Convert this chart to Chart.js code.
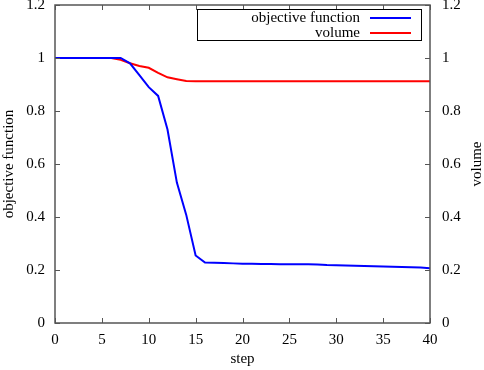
<!DOCTYPE html>
<html>
<head>
<meta charset="utf-8">
<script src="https://cdn.jsdelivr.net/npm/chart.js@4/dist/chart.umd.min.js"></script>
<style>
  html, body { margin: 0; padding: 0; background: #fff; }
  #wrap { width: 484px; height: 370px; position: relative; }
</style>
</head>
<body>
<div id="wrap"><canvas id="opt-chart"></canvas></div>
<script>
// values
var steps = [];
for (var s = 0; s <= 40; s++) steps.push(s);

var objective = [
  1.0, 1.0, 1.0, 1.0, 1.0, 1.0, 1.0, 1.0, 0.98, 0.935,
  0.89, 0.857, 0.73, 0.53, 0.408, 0.255, 0.228, 0.227, 0.226, 0.225,
  0.224, 0.224, 0.223, 0.223, 0.222, 0.222, 0.222, 0.222, 0.221, 0.219,
  0.218, 0.217, 0.216, 0.215, 0.214, 0.213, 0.212, 0.211, 0.21, 0.209,
  0.207
];

var volume = [
  1.0, 1.0, 1.0, 1.0, 1.0, 1.0, 1.0, 0.993, 0.98, 0.97,
  0.963, 0.944, 0.927, 0.92, 0.913, 0.912, 0.912, 0.912, 0.912, 0.912,
  0.912, 0.912, 0.912, 0.912, 0.912, 0.912, 0.912, 0.912, 0.912, 0.912,
  0.912, 0.912, 0.912, 0.912, 0.912, 0.912, 0.912, 0.912, 0.912, 0.912,
  0.912
];

var x_ticks = [0, 5, 10, 15, 20, 25, 30, 35, 40];
var y_ticks = [0, 0.2, 0.4, 0.6, 0.8, 1, 1.2];

var font_family = "'Liberation Serif', 'DejaVu Serif', serif";
var axis_grey = "#555555";

function points(ys) {
  return steps.map(function(x, i) { return { x: x, y: ys[i] }; });
}

function no_side_padding(scale) {
  scale.paddingTop = 0;
  scale.paddingBottom = 0;
  scale.paddingLeft = 0;
  scale.paddingRight = 0;
}

// gnuplot style frame, inward ticks, right title and boxed legend
var frame_plugin = {
  id: 'frame',
  afterDraw: function(chart) {
    var c = chart.ctx, a = chart.chartArea;
    var sx = chart.scales.x, sy = chart.scales.y, sy2 = chart.scales.y2;
    var len = 5;
    c.save();
    c.strokeStyle = axis_grey;
    c.lineWidth = 1;
    c.beginPath();
    x_ticks.forEach(function(v) {
      var px = Math.round(sx.getPixelForValue(v)) + 0.5;
      c.moveTo(px, a.bottom); c.lineTo(px, a.bottom - len);
      c.moveTo(px, a.top); c.lineTo(px, a.top + len);
    });
    y_ticks.forEach(function(v) {
      var py = Math.round(sy.getPixelForValue(v)) + 0.5;
      c.moveTo(a.left, py); c.lineTo(a.left + len, py);
      var py2 = Math.round(sy2.getPixelForValue(v)) + 0.5;
      c.moveTo(a.right, py2); c.lineTo(a.right - len, py2);
    });
    c.stroke();
    c.lineWidth = 1.5;
    c.strokeRect(Math.round(a.left), Math.round(a.top),
                 Math.round(a.right - a.left), Math.round(a.bottom - a.top));

    c.font = '15px ' + font_family;
    c.fillStyle = '#000000';
    // right axis title, reading upwards like the left one
    c.save();
    c.translate(477, (a.top + a.bottom) / 2);
    c.rotate(-Math.PI / 2);
    c.textAlign = 'center';
    c.textBaseline = 'middle';
    c.fillText('volume', 0, 0);
    c.restore();

    // legend box
    var bx = 197.5, by = 9.5, bw = 224, bh = 31;
    c.fillStyle = '#ffffff';
    c.fillRect(bx, by, bw, bh);
    c.strokeStyle = '#000000';
    c.lineWidth = 1;
    c.strokeRect(bx, by, bw, bh);
    c.textAlign = 'right';
    c.textBaseline = 'middle';
    chart.data.datasets.forEach(function(ds, i) {
      var ry = 18 + i * 15;
      c.fillStyle = '#000000';
      c.fillText(ds.label, 360, ry);
      c.strokeStyle = ds.borderColor;
      c.lineWidth = 2;
      c.beginPath();
      c.moveTo(370, ry); c.lineTo(411, ry);
      c.stroke();
    });
    c.restore();
  }
};

Chart.defaults.font.family = font_family;
Chart.defaults.font.size = 15;
Chart.defaults.color = '#000000';

var ctx = document.getElementById('opt-chart').getContext('2d');
var chart = new Chart(ctx, {
  type: 'line',
  data: {
    datasets: [
      {
        label: 'objective function',
        data: points(objective),
        borderColor: '#0000ff',
        borderWidth: 2,
        pointRadius: 0,
        tension: 0,
        yAxisID: 'y'
      },
      {
        label: 'volume',
        data: points(volume),
        borderColor: '#ff0000',
        borderWidth: 2,
        pointRadius: 0,
        tension: 0,
        yAxisID: 'y2'
      }
    ]
  },
  options: {
    responsive: true,
    maintainAspectRatio: false,
    animation: false,
    layout: { padding: { top: 5, left: 0, right: 0, bottom: 0 } },
    plugins: {
      legend: { display: false },
      tooltip: { enabled: false }
    },
    scales: {
      x: {
        type: 'linear',
        min: 0,
        max: 40,
        grid: { display: false, drawTicks: false },
        border: { display: false },
        afterBuildTicks: function(scale) {
          scale.ticks = x_ticks.map(function(v) { return { value: v }; });
        },
        afterFit: function(scale) { scale.height = 47; no_side_padding(scale); },
        ticks: { padding: 8, maxRotation: 0 },
        title: { display: true, text: 'step', padding: { top: 0, bottom: 2 } }
      },
      y: {
        position: 'left',
        min: 0,
        max: 1.2,
        grid: { display: false, drawTicks: false },
        border: { display: false },
        afterBuildTicks: function(scale) {
          scale.ticks = y_ticks.map(function(v) { return { value: v }; });
        },
        afterFit: function(scale) { scale.width = 55; no_side_padding(scale); },
        ticks: {
          padding: 10,
          callback: function(value) { return String(Math.round(value * 10) / 10); }
        },
        title: { display: true, text: 'objective function', padding: { top: 0, bottom: 0 } }
      },
      y2: {
        position: 'right',
        min: 0,
        max: 1.2,
        grid: { display: false, drawTicks: false },
        border: { display: false },
        afterBuildTicks: function(scale) {
          scale.ticks = y_ticks.map(function(v) { return { value: v }; });
        },
        afterFit: function(scale) { scale.width = 54; no_side_padding(scale); },
        ticks: {
          padding: 12,
          callback: function(value) { return String(Math.round(value * 10) / 10); }
        },
        title: { display: false }
      }
    }
  },
  plugins: [frame_plugin]
});
</script>
</body>
</html>
